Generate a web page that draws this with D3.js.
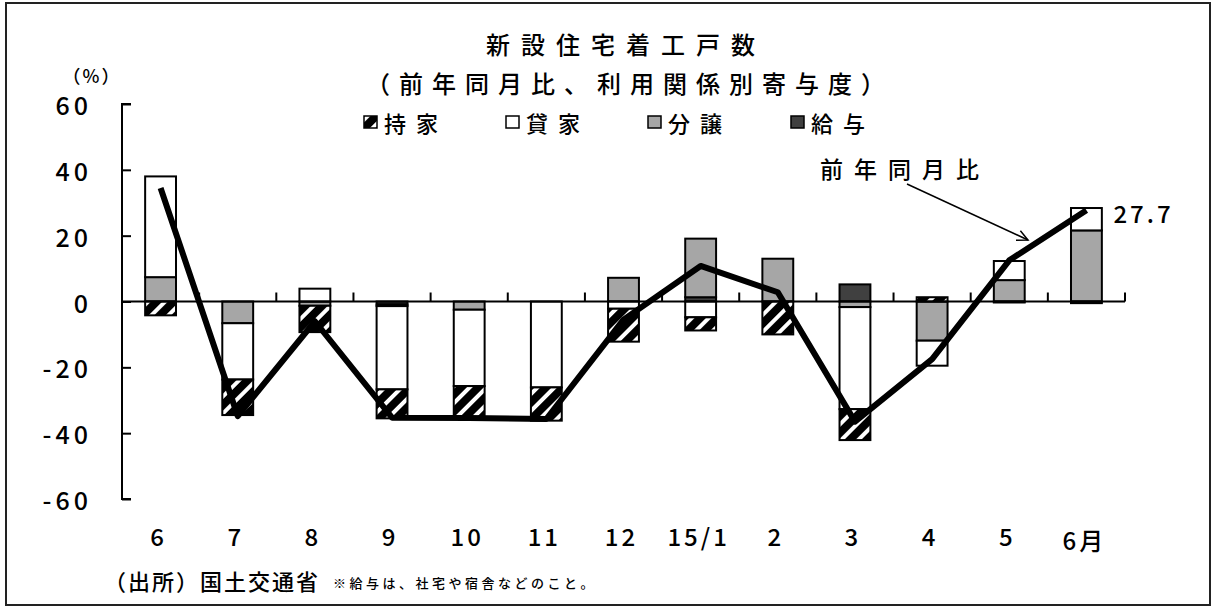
<!DOCTYPE html>
<html>
<head>
<meta charset="utf-8">
<script src="https://cdn.jsdelivr.net/npm/d3@7"></script>
<style>
  html, body { margin: 0; padding: 0; background: #fff; }
  svg { display: block; }
  text { font-family: "Noto Sans CJK JP", "Noto Sans", sans-serif; font-weight: 500; fill: #000; }
</style>
</head>
<body>
<svg id="chart" width="1217" height="610"></svg>
<script>
// Month labels (2014/6 – 2015/6)
const categories = ["6", "7", "8", "9", "10", "11", "12", "15/1", "2", "3", "4", "5", "6月"];

// Contribution by tenure type (percentage points)
const mochiie = [-4.2, -10.8, -8.0, -8.8, -9.7, -10.1, -10.0, -4.0, -10.0, -9.4, 1.3, -0.3, -0.5]; // 持家
const kashiya = [30.6, -17.1, 3.9, -25.3, -23.2, -26.1, -2.2, -4.8, 0, -31.0, -7.6, 5.8, 6.8]; // 貸家
const bunjo   = [7.4, -6.6, -1.3, -0.5, -2.5, 0, 7.2, 17.8, 13.0, -1.7, -11.9, 6.5, 21.6];   // 分譲
const kyuyo   = [0, 0, 0, -0.9, 0, 0, 0, 1.3, 0, 5.2, 0, 0, 0];                               // 給与

// Year-on-year change in housing starts (%)
const yoy = [34.5, -34.8, -6.0, -35.3, -35.4, -35.7, -5.5, 10.8, 2.8, -36.5, -17.5, 12.5, 27.7];

const yTicks = [60, 40, 20, 0, -20, -40, -60];

const svg = d3.select("#chart");

// frame
svg.append("rect")
  .attr("x", 6).attr("y", 3).attr("width", 1204).attr("height", 602)
  .attr("fill", "none").attr("stroke", "#222").attr("stroke-width", 2);

// hatch for 持家
const defs = svg.append("defs");
const pat = defs.append("pattern")
  .attr("id", "hatch").attr("patternUnits", "userSpaceOnUse")
  .attr("width", 12).attr("height", 12)
  .attr("patternTransform", "rotate(45)");
pat.append("rect").attr("width", 12).attr("height", 12).attr("fill", "#000");
pat.append("rect").attr("x", 4).attr("width", 4).attr("height", 12).attr("fill", "#fff");

const plot = { left: 122, right: 1125, top: 104, bottom: 499 };

const x = d3.scaleBand().domain(categories).range([plot.left, plot.right]).paddingInner(0.6).paddingOuter(0.3);
const xCenter = c => x(c) + x.bandwidth() / 2;
const y = d3.scaleLinear().domain([-60, 60]).range([plot.bottom, plot.top]);

const step = (plot.right - plot.left) / categories.length;

// stacked contributions (給与 nearest the axis, 持家 outermost)
const rows = categories.map((c, i) => ({ cat: c, kyuyo: kyuyo[i], bunjo: bunjo[i], kashiya: kashiya[i], mochiie: mochiie[i] }));
const keys = ["kyuyo", "bunjo", "kashiya", "mochiie"];
const fills = { mochiie: "url(#hatch)", kashiya: "#fff", bunjo: "#a6a6a6", kyuyo: "#404040" };
const stacked = d3.stack().keys(keys).offset(d3.stackOffsetDiverging)(rows);

const barG = svg.append("g");
stacked.forEach(layer => {
  barG.selectAll(null).data(layer.filter(d => d[1] !== d[0])).enter().append("rect")
    .attr("x", d => x(d.data.cat))
    .attr("width", x.bandwidth())
    .attr("y", d => y(Math.max(d[0], d[1])))
    .attr("height", d => Math.abs(y(d[0]) - y(d[1])))
    .attr("fill", fills[layer.key])
    .attr("stroke", "#000").attr("stroke-width", 2);
});

// y axis with inward ticks
const yAxis = d3.axisRight(y).tickValues(yTicks).tickSize(9).tickFormat("");
const ya = svg.append("g").attr("transform", `translate(${plot.left},0)`).call(yAxis);
ya.select(".domain").attr("d", `M9,${plot.top}H0V${plot.bottom}H9`).attr("stroke", "#000").attr("stroke-width", 2);
ya.selectAll(".tick line").attr("stroke", "#000").attr("stroke-width", 2);

svg.append("g").selectAll("text").data(yTicks).enter().append("text")
  .attr("x", 92).attr("y", d => y(d))
  .attr("text-anchor", "end").attr("dominant-baseline", "central")
  .attr("font-size", 25).attr("letter-spacing", 4)
  .text(d => d < 0 ? "-" + Math.abs(d) : String(d));

svg.append("text").attr("x", 92).attr("y", 75)
  .attr("text-anchor", "middle").attr("dominant-baseline", "central")
  .attr("font-size", 18).attr("letter-spacing", 2).text("（%）");

// x axis at zero with ticks between months
const zeroY = y(0);
svg.append("line").attr("x1", plot.left).attr("x2", plot.right)
  .attr("y1", zeroY).attr("y2", zeroY).attr("stroke", "#000").attr("stroke-width", 2);
svg.append("g").selectAll("line").data(d3.range(1, categories.length + 1)).enter().append("line")
  .attr("x1", k => plot.left + k * step).attr("x2", k => plot.left + k * step)
  .attr("y1", zeroY).attr("y2", zeroY - 9)
  .attr("stroke", "#000").attr("stroke-width", 2);

svg.append("g").selectAll("text").data(categories).enter().append("text")
  .attr("x", d => xCenter(d) - 2)
  .attr("y", d => d === "6月" ? 539 : 535)
  .attr("text-anchor", "middle").attr("dominant-baseline", "central")
  .attr("font-size", 24).attr("letter-spacing", 3)
  .text(d => d);

// year-on-year line
const line = d3.line().x((d, i) => xCenter(categories[i])).y(d => y(d));
svg.append("path").datum(yoy).attr("d", line)
  .attr("fill", "none").attr("stroke", "#000").attr("stroke-width", 6)
  .attr("stroke-linejoin", "round");

// end value label
const last = yoy.length - 1;
svg.append("text")
  .attr("x", xCenter(categories[last]) + 27).attr("y", y(yoy[last]) + 2)
  .attr("dominant-baseline", "central").attr("font-size", 24).attr("letter-spacing", 3)
  .text(yoy[last].toFixed(1));

// line callout
svg.append("text").attr("x", 905).attr("y", 168)
  .attr("text-anchor", "middle").attr("dominant-baseline", "central")
  .attr("font-size", 23).attr("letter-spacing", 11).text("前年同月比");
const ax0 = [907, 184], ax1 = [1028, 240];
svg.append("line").attr("x1", ax0[0]).attr("y1", ax0[1]).attr("x2", ax1[0]).attr("y2", ax1[1])
  .attr("stroke", "#000").attr("stroke-width", 1.5);
{
  const ang = Math.atan2(ax1[1] - ax0[1], ax1[0] - ax0[0]);
  const L = 12, spread = 0.45;
  const p1 = [ax1[0] - L * Math.cos(ang - spread), ax1[1] - L * Math.sin(ang - spread)];
  const p2 = [ax1[0] - L * Math.cos(ang + spread), ax1[1] - L * Math.sin(ang + spread)];
  svg.append("path").attr("d", `M${p1}L${ax1}L${p2}`)
    .attr("fill", "none").attr("stroke", "#000").attr("stroke-width", 1.5);
}

// titles
svg.append("text").attr("x", 626).attr("y", 43)
  .attr("text-anchor", "middle").attr("dominant-baseline", "central")
  .attr("font-size", 24).attr("letter-spacing", 11).text("新設住宅着工戸数");
svg.append("text").attr("x", 630).attr("y", 82)
  .attr("text-anchor", "middle").attr("dominant-baseline", "central")
  .attr("font-size", 24).attr("letter-spacing", 9).text("（前年同月比、利用関係別寄与度）");

// legend
const legendItems = [
  { key: "mochiie", label: "持家", x: 364 },
  { key: "kashiya", label: "貸家", x: 506 },
  { key: "bunjo",   label: "分譲", x: 648 },
  { key: "kyuyo",   label: "給与", x: 791 }
];
const lg = svg.append("g");
legendItems.forEach(it => {
  lg.append("rect").attr("x", it.x).attr("y", 116).attr("width", 13).attr("height", 12)
    .attr("fill", fills[it.key]).attr("stroke", "#000").attr("stroke-width", 1.5);
  lg.append("text").attr("x", it.x + 20).attr("y", 122)
    .attr("dominant-baseline", "central").attr("font-size", 22).attr("letter-spacing", 10)
    .text(it.label);
});

// source and note
svg.append("text").attr("x", 104).attr("y", 580)
  .attr("dominant-baseline", "central").attr("font-size", 22).attr("letter-spacing", 2)
  .text("（出所）国土交通省");
svg.append("text").attr("x", 333).attr("y", 582)
  .attr("dominant-baseline", "central").attr("font-size", 13).attr("letter-spacing", 3.5)
  .text("※給与は、社宅や宿舎などのこと。");
</script>
</body>
</html>
